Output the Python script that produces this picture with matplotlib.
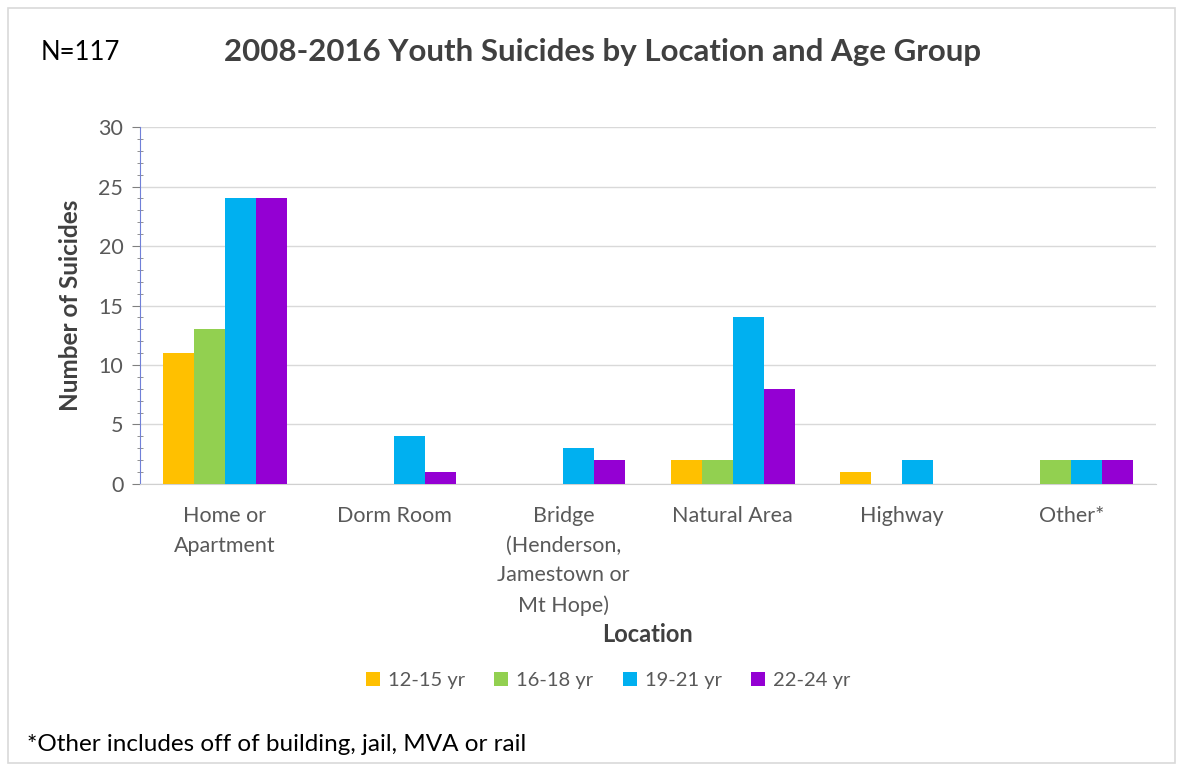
import matplotlib
matplotlib.use("Agg")
import matplotlib.pyplot as plt
import numpy as np
from matplotlib.ticker import MultipleLocator
from matplotlib.patches import Rectangle

locations = ["Home or\nApartment", "Dorm Room",
             "Bridge\n(Henderson,\nJamestown or\nMt Hope)",
             "Natural Area", "Highway", "Other*"]
age_groups = ["12-15 yr", "16-18 yr", "19-21 yr", "22-24 yr"]
age_12_15 = [11, 0, 0, 2, 1, 0]
age_16_18 = [13, 0, 0, 2, 0, 2]
age_19_21 = [24, 4, 3, 14, 2, 2]
age_22_24 = [24, 1, 2, 8, 0, 2]
series = [age_12_15, age_16_18, age_19_21, age_22_24]
colors = ["#FFC000", "#92D050", "#00B0F0", "#9400D3"]

plt.rcParams['font.family'] = ['Lato', 'DejaVu Sans']

fig = plt.figure(figsize=(11.83, 7.68), dpi=100)
fig.patch.set_facecolor("white")
fig.add_artist(Rectangle((0.007, 0.006), 0.986, 0.983, transform=fig.transFigure,
                         fill=False, edgecolor="#d9d9d9", linewidth=1.2))

ax = fig.add_axes([0.1183, 0.3698, 0.8589, 0.4648])
x = np.arange(len(locations))
w = 0.183
handles = []
for i, (vals, c, lab) in enumerate(zip(series, colors, age_groups)):
    h = ax.bar(x + (i - 1.5) * w, vals, width=w, color=c, label=lab, zorder=3)
    handles.append(h)

ax.set_xlim(-0.5, len(locations) - 0.5)
ax.set_ylim(0, 30)
ax.yaxis.set_major_locator(MultipleLocator(5))
ax.yaxis.set_minor_locator(MultipleLocator(1))
ax.grid(axis="y", which="major", color="#d9d9d9", linewidth=1, zorder=0)
for s in ["top", "right"]:
    ax.spines[s].set_visible(False)
ax.spines["left"].set_color("#7080d8")
ax.spines["bottom"].set_color("#d0d0d0")
ax.tick_params(axis="y", which="major", length=6, color="#808080",
               labelsize=15.5, labelcolor="#595959", pad=6)
ax.tick_params(axis="y", which="minor", length=4, color="#808080", direction="inout")
ax.tick_params(axis="x", length=0, labelsize=15.5, labelcolor="#595959", pad=16)
ax.set_xticks(x)
ax.set_xticklabels(locations, linespacing=1.6, va="top")

ax.set_ylabel("Number of Suicides", fontsize=17.5, fontweight="bold",
              color="#404040", labelpad=12)
ax.set_xlabel("Location", fontsize=17, fontweight="bold", color="#404040",
              labelpad=5)

fig.text(0.509, 0.932, "2008-2016 Youth Suicides by Location and Age Group",
         ha="center", va="center", fontsize=22.5, fontweight="bold", color="#404040")
fig.text(0.034, 0.932, "N=117", ha="left", va="center", fontsize=18.5, color="#000000")
fig.text(0.023, 0.030, "*Other includes off of building, jail, MVA or rail",
         ha="left", va="center", fontsize=17.5, color="#000000")

fig.legend(handles=handles, labels=age_groups, loc="center",
           bbox_to_anchor=(0.514, 0.114), ncol=4, frameon=False,
           fontsize=14.5, labelcolor="#595959", handlelength=0.7, handleheight=0.7,
           handletextpad=0.4, columnspacing=1.45)

fig.savefig("out.png", dpi=100, facecolor="white")
